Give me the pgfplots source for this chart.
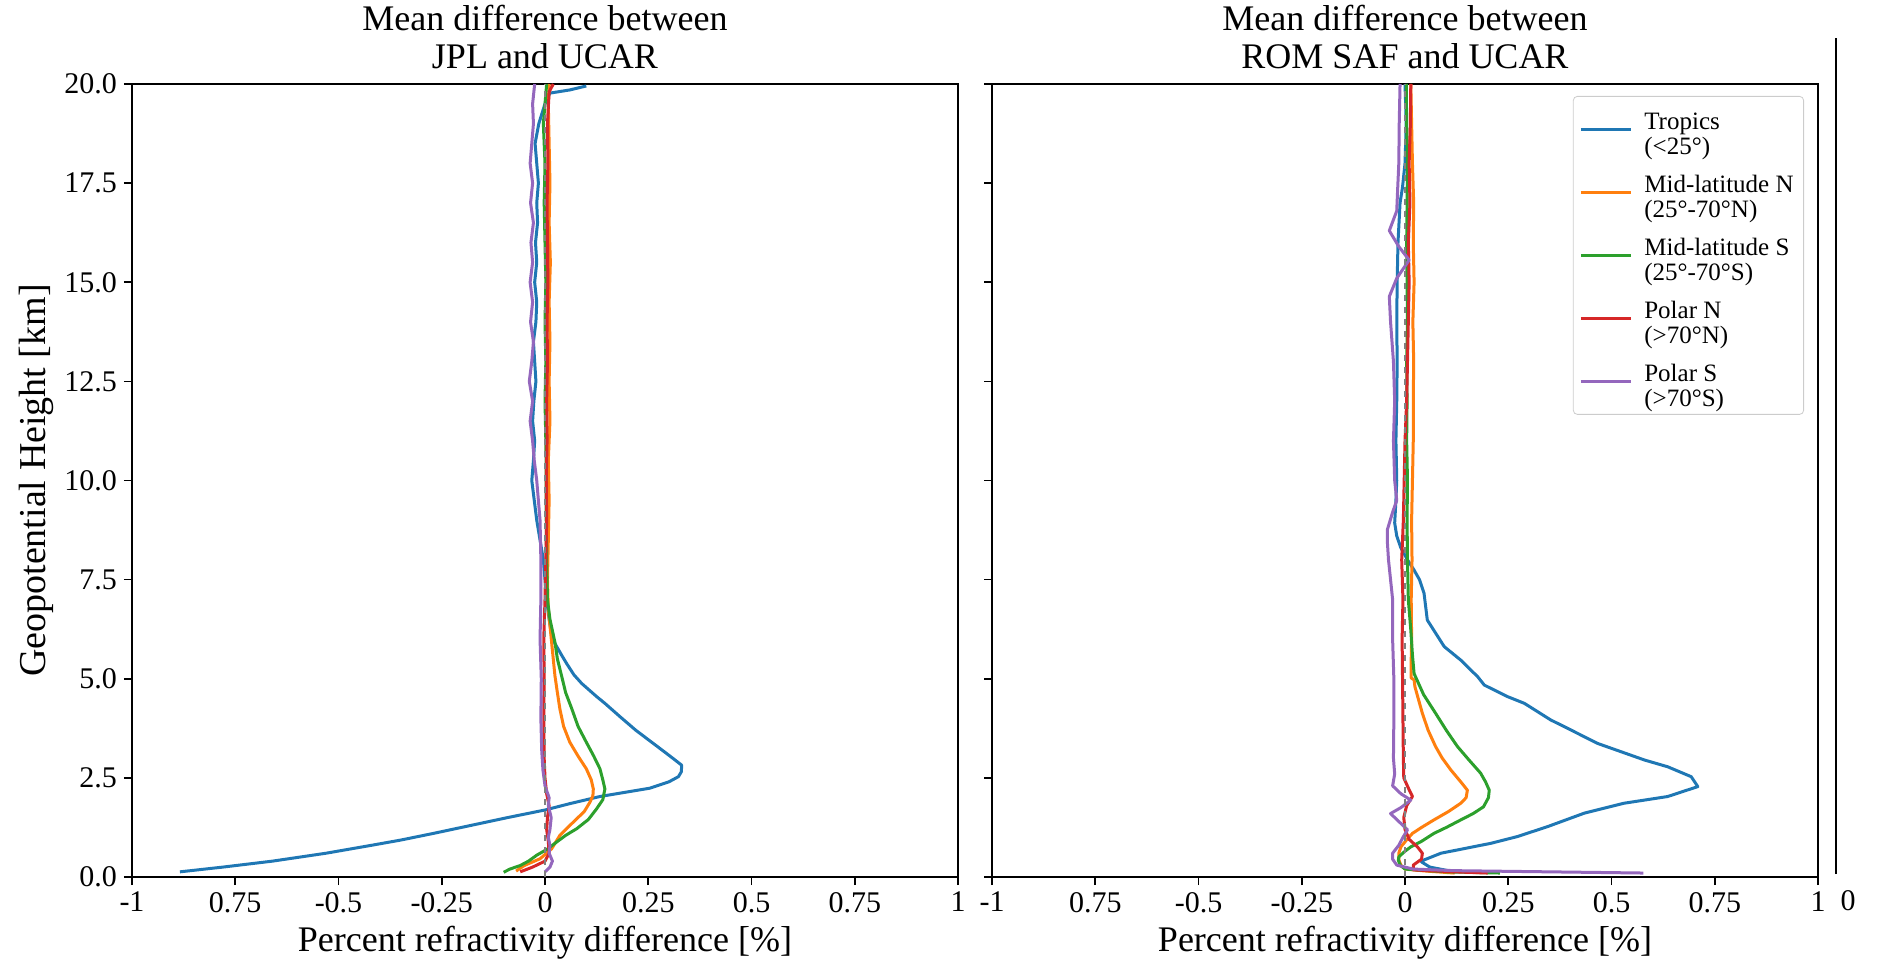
\documentclass[border=0pt]{standalone}
\usepackage{fontspec}
\setmainfont{Liberation Serif}
\usepackage{pgfplots}
\pgfplotsset{compat=1.18}

\definecolor{c0}{HTML}{1F77B4}
\definecolor{c1}{HTML}{FF7F0E}
\definecolor{c2}{HTML}{2CA02C}
\definecolor{c3}{HTML}{D62728}
\definecolor{c4}{HTML}{9467BD}

\pgfplotsset{
  panel/.style={
    scale only axis,
    width=413pt, height=396.5pt,
    xmin=-1, xmax=1, ymin=0, ymax=20,
    xtick={-1,-0.75,-0.5,-0.25,0,0.25,0.5,0.75,1},
    xticklabels={-1,0.75,-0.5,-0.25,0,0.25,0.5,0.75,1},
    ytick={0,2.5,5,7.5,10,12.5,15,17.5,20},
    xtick pos=left, ytick pos=left,
    tick align=outside,
    major tick length=4pt,
    axis line style={line width=0.8pt},
    tick style={line width=0.8pt, black},
    ticklabel style={font=\fontsize{15}{15}\selectfont},
    title style={font=\fontsize{18}{19}\selectfont, align=center,
      at={(0.5,1)}, anchor=south, inner sep=0pt, yshift=1.5pt},
    xlabel style={font=\fontsize{18}{19}\selectfont,
      at={(axis description cs:0.5,-0.083)}, anchor=center},
    every axis plot/.append style={line width=1.5pt, line join=round},
    legend image code/.code={\draw[#1] (0pt,0pt) -- (25pt,0pt);},
  }
}

\begin{document}
\begin{tikzpicture}
\useasboundingbox (-66pt,-43.5pt) rectangle (873pt,438.5pt);

% left panel: JPL - UCAR
\begin{axis}[panel, at={(0pt,0pt)},
  yticklabels={0.0,2.5,5.0,7.5,10.0,12.5,15.0,17.5,20.0},
  title={Mean difference between\\JPL and UCAR},
  xlabel={Percent refractivity difference [\%]},
  ylabel={Geopotential Height [km]},
  ylabel style={font=\fontsize{19}{20}\selectfont,
    at={(axis description cs:-0.116,0.5)}, anchor=center, rotate=0},
]
\addplot[c0] coordinates {
(-0.884,0.13) (-0.78,0.25) (-0.66,0.4) (-0.53,0.6) (-0.42,0.8) (-0.35,0.93)
(-0.27,1.1) (-0.18,1.3) (-0.09,1.5) (0.0,1.69) (0.06,1.85) (0.133,2.03)
(0.254,2.24) (0.30,2.4) (0.323,2.53) (0.330,2.65) (0.331,2.82) (0.315,2.95)
(0.29,3.15) (0.262,3.37) (0.22,3.7) (0.182,4.04) (0.145,4.38) (0.125,4.55)
(0.089,4.88) (0.07,5.1) (0.052,5.39) (0.04,5.6) (0.024,5.89) (0.016,6.1)
(0.01,6.5) (0.004,7.0) (0.0,7.5) (-0.004,8.0) (-0.012,8.5) (-0.02,9.0)
(-0.026,9.5) (-0.032,10.0) (-0.028,10.5) (-0.025,11.0) (-0.03,11.5)
(-0.027,12.0) (-0.022,12.5) (-0.025,13.0) (-0.028,13.5) (-0.022,14.0)
(-0.02,14.5) (-0.025,15.0) (-0.02,15.5) (-0.023,16.0) (-0.018,16.5)
(-0.02,17.0) (-0.016,17.5) (-0.02,18.0) (-0.024,18.5) (-0.015,19.0)
(0.0,19.5) (0.012,19.77) (0.06,19.85) (0.10,19.95)
};
\addplot[c1] coordinates {
(-0.07,0.15) (-0.05,0.29) (-0.012,0.46) (0.016,0.71) (0.036,1.05) (0.069,1.39)
(0.095,1.65) (0.109,1.89) (0.116,2.05) (0.117,2.22) (0.112,2.45) (0.10,2.73)
(0.08,3.05) (0.06,3.4) (0.045,3.8) (0.036,4.24) (0.03,4.65) (0.024,5.08)
(0.02,5.5) (0.016,5.92) (0.008,6.76) (0.006,7.5) (0.008,8.5) (0.01,9.5)
(0.008,10.5) (0.012,11.5) (0.01,12.5) (0.012,13.5) (0.01,14.5) (0.013,15.5)
(0.01,16.5) (0.012,17.5) (0.01,18.5) (0.008,19.5) (0.01,20)
};
\addplot[c2] coordinates {
(-0.10,0.12) (-0.085,0.2) (-0.06,0.29) (-0.04,0.4) (-0.02,0.55) (0.005,0.7)
(0.028,0.88) (0.05,1.05) (0.077,1.22) (0.105,1.45) (0.125,1.72) (0.14,1.95)
(0.145,2.22) (0.14,2.45) (0.133,2.73) (0.118,3.05) (0.10,3.4) (0.08,3.8)
(0.065,4.24) (0.05,4.65) (0.04,5.08) (0.03,5.5) (0.024,5.92) (0.012,6.5)
(0.006,7.0) (0.004,8) (0.003,9) (0.003,10) (0.002,11) (0.0,12) (0.002,13)
(0.0,14) (0.002,15) (0.0,16) (-0.002,17) (0.0,18) (-0.004,19) (0.0,19.5)
(0.004,20)
};
\addplot[c3] coordinates {
(-0.06,0.13) (-0.03,0.25) (0.0,0.4) (0.01,0.6) (0.008,0.9) (0.004,1.2)
(0.006,1.5) (0.01,1.8) (0.004,2.1) (0.0,2.5) (-0.002,3) (-0.003,4)
(-0.002,5) (-0.003,6) (0.0,7) (0.002,8) (0.004,9) (0.003,10) (0.005,11)
(0.004,12) (0.006,13) (0.005,14) (0.007,15) (0.006,16) (0.005,17)
(0.007,18) (0.006,19) (0.01,19.8) (0.02,20)
};
\addplot[c4] coordinates {
(0.0,0.13) (0.012,0.25) (0.018,0.4) (0.01,0.6) (0.012,0.8) (0.008,1.0)
(0.012,1.2) (0.015,1.5) (0.008,1.8) (0.01,2.0) (0.0,2.3) (-0.005,2.7)
(-0.008,3.2) (-0.01,4.0) (-0.009,5) (-0.012,6) (-0.01,7) (-0.01,8)
(-0.012,9) (-0.02,10) (-0.026,10.5) (-0.03,11) (-0.036,11.5) (-0.03,12)
(-0.038,12.5) (-0.032,13) (-0.028,13.5) (-0.035,14) (-0.03,14.5)
(-0.036,15) (-0.03,15.5) (-0.034,16) (-0.028,16.5) (-0.035,17)
(-0.03,17.5) (-0.036,18) (-0.032,18.5) (-0.028,19) (-0.03,19.5)
(-0.025,20)
};
\addplot[gray, dashed, line width=1pt] coordinates {(0,0) (0,20)};
\end{axis}

% right panel: ROM SAF - UCAR
\begin{axis}[panel, at={(430pt,0pt)},
  yticklabels={},
  title={Mean difference between\\ROM SAF and UCAR},
  xlabel={Percent refractivity difference [\%]},
  legend style={at={(rel axis cs:1,1)}, anchor=north east,
    xshift=-7pt, yshift=-6pt, draw=black!20, rounded corners=2pt,
    font=\fontsize{12.5}{12.5}\selectfont, row sep=10.5pt, column sep=4pt,
    inner xsep=3pt, inner ysep=6pt},
  legend cell align=left,
]
\addplot[c0] coordinates {
(0.12,0.13) (0.06,0.25) (0.04,0.38) (0.046,0.43) (0.087,0.6) (0.208,0.85)
(0.272,1.02) (0.345,1.27) (0.434,1.61) (0.53,1.86) (0.636,2.03)
(0.709,2.28) (0.693,2.53) (0.636,2.78) (0.58,2.95) (0.466,3.37)
(0.386,3.79) (0.353,3.96) (0.289,4.38) (0.248,4.55) (0.192,4.84)
(0.176,5.05) (0.135,5.47) (0.095,5.81) (0.054,6.48) (0.046,7.16)
(0.035,7.5) (0.022,7.74) (0.006,8.0) (-0.01,8.3) (-0.02,8.6) (-0.025,8.93)
(-0.022,9.5) (-0.02,10) (-0.022,11) (-0.02,12) (-0.019,13) (-0.02,14)
(-0.019,15) (-0.017,16) (-0.012,17) (-0.006,17.4) (0.0,18) (0.003,19)
(0.0,20)
};
\addlegendentry{\begin{tabular}{@{}l@{}}Tropics\\(<25°)\end{tabular}}
\addplot[c1] coordinates {
(0.12,0.1) (0.05,0.15) (0.0,0.2) (-0.01,0.3) (-0.015,0.43) (-0.015,0.6)
(-0.01,0.76) (0.005,0.95) (0.018,1.1) (0.04,1.25) (0.07,1.44) (0.105,1.65)
(0.135,1.86) (0.148,2.0) (0.151,2.19) (0.135,2.4) (0.111,2.7) (0.09,3.0)
(0.074,3.29) (0.056,3.7) (0.042,4.13) (0.032,4.5) (0.024,4.8) (0.022,4.97)
(0.015,5.02) (0.015,5.5) (0.016,6) (0.015,7) (0.017,8) (0.016,9) (0.018,10)
(0.02,11) (0.02,12) (0.021,13) (0.019,14) (0.022,15) (0.02,16) (0.021,17)
(0.018,18) (0.016,19) (0.014,20)
};
\addlegendentry{\begin{tabular}{@{}l@{}}Mid-latitude N\\(25°-70°N)\end{tabular}}
\addplot[c2] coordinates {
(0.23,0.1) (0.1,0.13) (0.0,0.2) (-0.012,0.3) (-0.016,0.42) (-0.015,0.51)
(0.0,0.65) (0.014,0.76) (0.04,0.9) (0.07,1.1) (0.1,1.25) (0.135,1.44)
(0.165,1.6) (0.19,1.77) (0.202,2.0) (0.204,2.19) (0.195,2.4) (0.183,2.62)
(0.155,2.95) (0.127,3.29) (0.1,3.7) (0.074,4.13) (0.045,4.6) (0.022,5.13)
(0.018,5.6) (0.014,6.23) (0.008,7) (0.006,8) (0.005,9) (0.006,10)
(0.004,11) (0.005,12) (0.004,13) (0.006,14) (0.005,15) (0.004,16)
(0.005,17) (0.006,18) (0.004,19) (0.003,20)
};
\addlegendentry{\begin{tabular}{@{}l@{}}Mid-latitude S\\(25°-70°S)\end{tabular}}
\addplot[c3] coordinates {
(0.2,0.1) (0.12,0.13) (0.02,0.18) (0.02,0.3) (0.04,0.45) (0.042,0.6)
(0.03,0.76) (0.01,0.95) (0.0,1.2) (-0.003,1.5) (0.004,1.8) (0.018,2.03)
(0.01,2.2) (-0.003,2.5) (-0.004,3) (-0.005,4) (-0.006,5) (-0.007,6)
(-0.005,7) (-0.008,8) (-0.004,9) (-0.002,10) (0.0,11) (0.004,12)
(0.006,13) (0.008,14) (0.01,15) (0.008,16) (0.012,17) (0.01,18)
(0.013,19) (0.014,20)
};
\addlegendentry{\begin{tabular}{@{}l@{}}Polar N\\(>70°N)\end{tabular}}
\addplot[c4] coordinates {
(0.577,0.1) (0.35,0.13) (0.12,0.16) (0.02,0.2) (-0.02,0.3) (-0.03,0.45)
(-0.03,0.6) (-0.015,0.8) (-0.005,1.0) (0.006,1.19) (-0.015,1.4)
(-0.035,1.6) (-0.01,1.75) (0.014,1.94) (-0.01,2.1) (-0.03,2.3)
(-0.025,2.6) (-0.028,3) (-0.027,4) (-0.027,5) (-0.03,6) (-0.03,7)
(-0.035,7.5) (-0.04,8) (-0.043,8.5) (-0.043,8.75) (-0.03,9.2) (-0.02,9.5)
(-0.025,10) (-0.028,11) (-0.025,12) (-0.028,13) (-0.035,14)
(-0.038,14.64) (-0.02,15.1) (0.01,15.56) (-0.015,15.9) (-0.038,16.3)
(-0.02,16.8) (-0.018,17.3) (-0.015,18) (-0.014,19) (-0.012,20)
};
\addlegendentry{\begin{tabular}{@{}l@{}}Polar S\\(>70°S)\end{tabular}}
\addplot[gray, dashed, line width=1pt, forget plot] coordinates {(0,0) (0,20)};
\end{axis}

% stray vertical rule at the right edge
\draw[line width=0.8pt] (852pt,1.5pt) -- (852pt,419.5pt);
\node[anchor=base, font=\fontsize{15}{15}\selectfont] at (858pt,-16.8pt) {0};
\end{tikzpicture}
\end{document}
